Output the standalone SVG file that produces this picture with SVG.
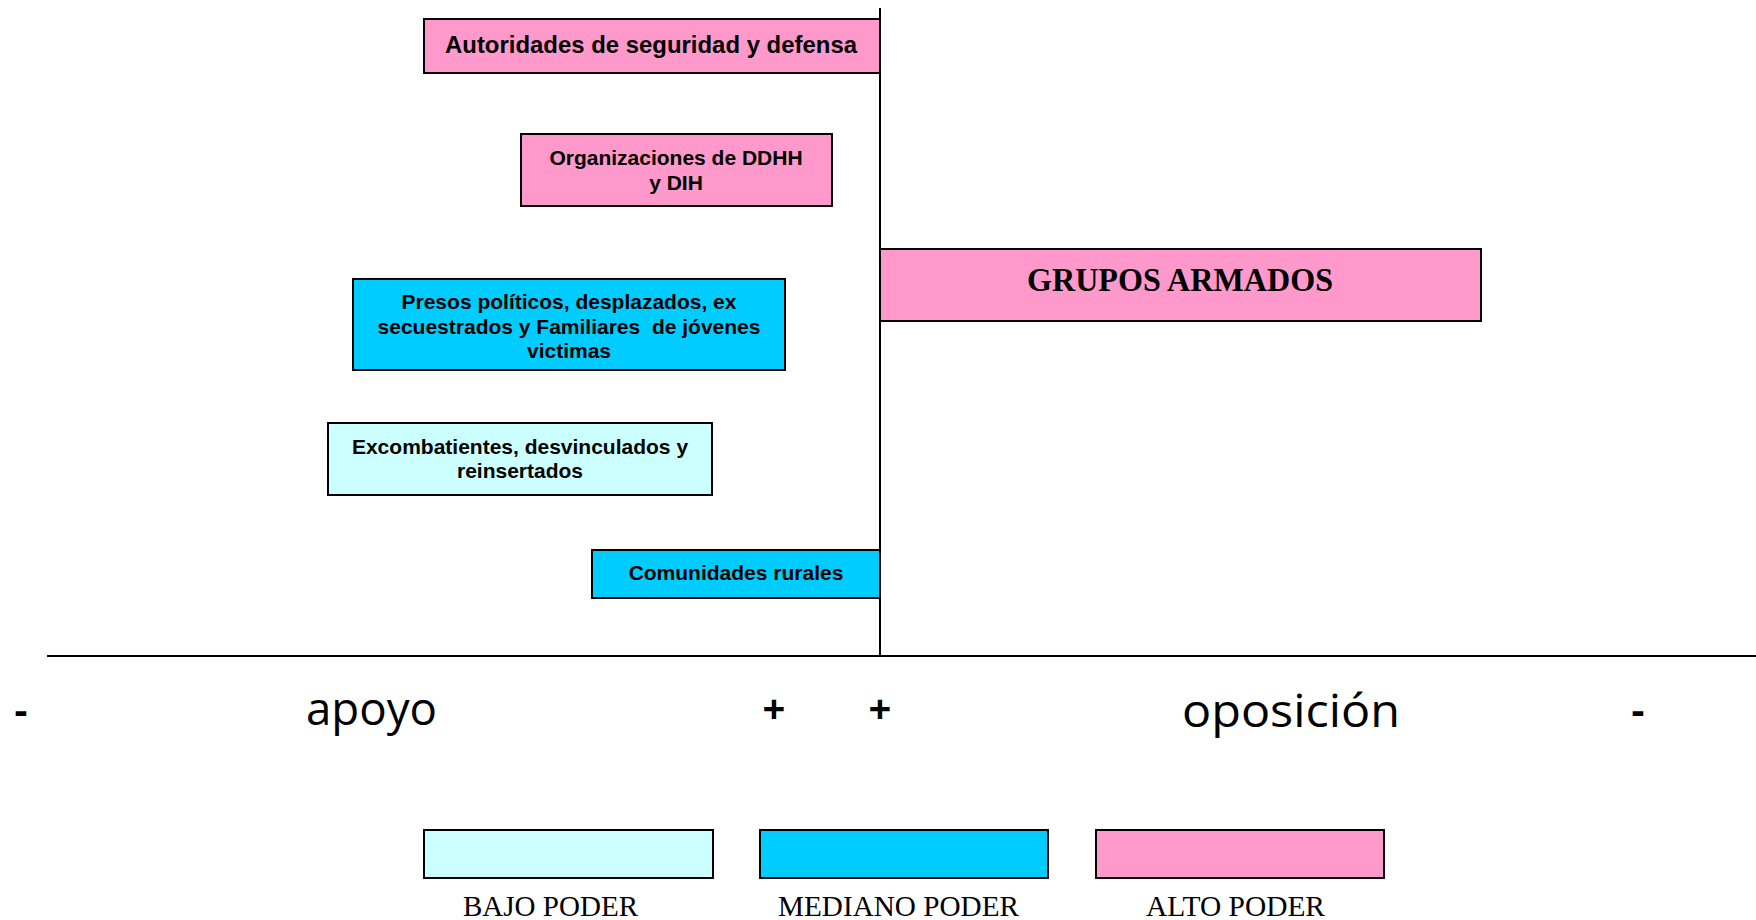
<svg xmlns="http://www.w3.org/2000/svg" width="1756" height="920" viewBox="0 0 1756 920">
<style>
.box{stroke:#000;stroke-width:2}
.hi{fill:#FF99CC}
.mid{fill:#00CCFF}
.lo{fill:#CCFFFF}
.lbl{font-family:"Liberation Sans",Arial,sans-serif;font-weight:bold;font-size:21px;fill:#000;text-anchor:middle}
.axis{font-family:"Comic Sans MS","Open Sans",sans-serif;font-size:46px;fill:#000}
.sign{font-family:"Open Sans",sans-serif;font-weight:bold;font-size:40px;fill:#000;text-anchor:middle}
.leg{font-family:"Liberation Serif","Times New Roman",serif;font-size:29px;fill:#000}
.ax{stroke:#000;stroke-width:2;fill:none}
</style>
<rect width="1756" height="920" fill="#fff"/>
<g id="connectors">
<line class="ax" x1="880" y1="8" x2="880" y2="657"/>
<line class="ax" x1="47" y1="656" x2="1756" y2="656"/>
</g>
<g id="autoridades">
<rect class="box hi" x="424" y="19" width="456" height="54"/>
<text class="lbl" x="651" y="53" style="font-size:24px" textLength="412" lengthAdjust="spacingAndGlyphs">Autoridades de seguridad y defensa</text>
</g>
<g id="organizaciones">
<rect class="box hi" x="521" y="134" width="311" height="72"/>
<text class="lbl" x="676" y="165">Organizaciones de DDHH</text>
<text class="lbl" x="676" y="190">y DIH</text>
</g>
<g id="grupos">
<rect class="box hi" x="880" y="249" width="601" height="72"/>
<text x="1180" y="291" style="font-family:'Liberation Serif','Times New Roman',serif;font-weight:bold;font-size:34px;text-anchor:middle" textLength="306" lengthAdjust="spacingAndGlyphs">GRUPOS ARMADOS</text>
</g>
<g id="presos">
<rect class="box mid" x="353" y="279" width="432" height="91"/>
<text class="lbl" x="569" y="309">Presos políticos, desplazados, ex</text>
<text class="lbl" x="569" y="334" xml:space="preserve">secuestrados y Familiares  de jóvenes</text>
<text class="lbl" x="569" y="358">victimas</text>
</g>
<g id="excombatientes">
<rect class="box lo" x="328" y="423" width="384" height="72"/>
<text class="lbl" x="520" y="454">Excombatientes, desvinculados y</text>
<text class="lbl" x="520" y="478">reinsertados</text>
</g>
<g id="comunidades">
<rect class="box mid" x="592" y="550" width="288" height="48"/>
<text class="lbl" x="736" y="580">Comunidades rurales</text>
</g>
<g id="axis-labels">
<text class="sign" x="21" y="724">-</text>
<text class="axis" x="306" y="725" textLength="131" lengthAdjust="spacingAndGlyphs">apoyo</text>
<text class="sign" x="774" y="723">+</text>
<text class="sign" x="880" y="723">+</text>
<text class="axis" x="1182" y="727" textLength="218" lengthAdjust="spacingAndGlyphs">oposición</text>
<text class="sign" x="1638" y="724">-</text>
</g>
<g id="legend">
<g id="leg-bajo">
<rect class="box lo" x="424" y="830" width="289" height="48"/>
<text class="leg" x="463" y="916" textLength="175" lengthAdjust="spacingAndGlyphs">BAJO PODER</text>
</g>
<g id="leg-mediano">
<rect class="box mid" x="760" y="830" width="288" height="48"/>
<text class="leg" x="778" y="916" textLength="241" lengthAdjust="spacingAndGlyphs">MEDIANO PODER</text>
</g>
<g id="leg-alto">
<rect class="box hi" x="1096" y="830" width="288" height="48"/>
<text class="leg" x="1146" y="916" textLength="179" lengthAdjust="spacingAndGlyphs">ALTO PODER</text>
</g>
</g>
</svg>
